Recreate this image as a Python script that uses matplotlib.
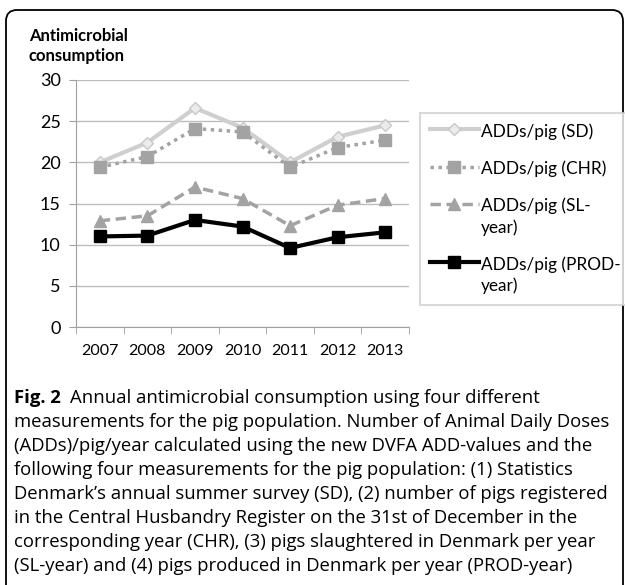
"""Fig. 2 - annual antimicrobial consumption, four pig population measures."""

import matplotlib
matplotlib.use("Agg")
import matplotlib.pyplot as plt
from matplotlib.patches import FancyBboxPatch

plt.rcParams["font.family"] = ["Lato", "DejaVu Sans"]

# ---- data ----
years = ["2007", "2008", "2009", "2010", "2011", "2012", "2013"]
adds_sd = [20.0, 22.4, 26.6, 24.2, 20.0, 23.1, 24.5]
adds_chr = [19.4, 20.7, 24.1, 23.7, 19.4, 21.8, 22.7]
adds_sl = [12.9, 13.5, 17.0, 15.6, 12.3, 14.8, 15.6]
adds_prod = [11.0, 11.1, 13.0, 12.2, 9.6, 10.9, 11.5]
labels = ["ADDs/pig (SD)", "ADDs/pig (CHR)", "ADDs/pig (SL-\nyear)", "ADDs/pig (PROD-\nyear)"]
yticks = [0, 5, 10, 15, 20, 25, 30]

caption_lines = [
    "Annual antimicrobial consumption using four different",
    "measurements for the pig population. Number of Animal Daily Doses",
    "(ADDs)/pig/year calculated using the new DVFA ADD-values and the",
    "following four measurements for the pig population: (1) Statistics",
    "Denmark\u2019s annual summer survey (SD), (2) number of pigs registered",
    "in the Central Husbandry Register on the 31st of December in the",
    "corresponding year (CHR), (3) pigs slaughtered in Denmark per year",
    "(SL-year) and (4) pigs produced in Denmark per year (PROD-year)",
]

W, H = 625, 585
fig = plt.figure(figsize=(W / 100, H / 100), dpi=100)
fig.patch.set_facecolor("white")

# rounded frame round the whole figure (pixel coordinates)
frame = fig.add_axes([0, 0, 1, 1])
frame.set_xlim(0, W)
frame.set_ylim(H, 0)
frame.axis("off")
frame.add_patch(FancyBboxPatch((6, 10), 617, 700, boxstyle="round,pad=0,rounding_size=11",
                               fill=False, lw=1.3, ec="black"))

ax = fig.add_axes([76 / W, 1 - 327 / H, 333 / W, 247 / H])
x = range(len(years))

ax.plot(x, adds_sd, color="#CFCFCF", lw=3, marker="D", ms=6,
        mfc="#EBEBEB", mec="#C8C8C8", label=labels[0], zorder=3)
ax.plot(x, adds_chr, color="#A3A3A3", lw=2.5, ls=(0, (1, 1.3)), marker="s", ms=8,
        mfc="#A3A3A3", mec="#A3A3A3", label=labels[1], zorder=4)
ax.plot(x, adds_sl, color="#A3A3A3", lw=2.5, ls=(0, (3, 1.6)), marker="^", ms=8,
        mfc="#A3A3A3", mec="#A3A3A3", label=labels[2], zorder=4)
ax.plot(x, adds_prod, color="black", lw=3, marker="s", ms=9,
        mfc="black", mec="black", label=labels[3], zorder=5)

ax.set_xlim(-0.5, len(years) - 0.5)
ax.set_ylim(0, 30)
ax.set_yticks(yticks)
ax.set_xticks(list(x))
ax.set_xticklabels(years)
ax.set_xticks([i - 0.5 for i in range(len(years) + 1)], minor=True)
ax.tick_params(axis="x", which="major", length=0, pad=12, labelsize=11.5)
ax.tick_params(axis="x", which="minor", length=5, color="#A0A0A0", direction="out")
ax.tick_params(axis="y", length=5, color="#A0A0A0", pad=6, labelsize=13)
ax.grid(axis="y", color="#BDBDBD", lw=1)
ax.set_axisbelow(True)
for side in ["top", "right"]:
    ax.spines[side].set_visible(False)
for side in ["left", "bottom"]:
    ax.spines[side].set_color("#A0A0A0")

fig.text(29 / W, 1 - 46 / H, "Antimicrobial\nconsumption", fontsize=12, fontweight="bold",
         ha="left", va="center", linespacing=1.3)

leg = ax.legend(loc="upper left", bbox_to_anchor=(420 / W, 1 - 113 / H),
                bbox_transform=fig.transFigure, frameon=True, fancybox=False,
                edgecolor="#D0D0D0", fontsize=12.4, handlelength=2.8, handletextpad=0.15,
                labelspacing=1.2, borderpad=0.6, borderaxespad=0)
leg.get_frame().set_linewidth(1.5)
for t in leg.get_texts():
    t.set_linespacing(1.35)
# handle sits next to the first line of a wrapped label, as in the original
for col in leg._legend_handle_box.get_children():
    for row in col.get_children():
        row.align = "top"

# caption: bold "Fig. 2" then the rest, one line at a time
cap_font = ["Open Sans", "DejaVu Sans"]
cap_size = 13.3
y0, dy = 398, 24
fig_lbl = fig.text(14 / W, 1 - y0 / H, "Fig. 2", fontsize=cap_size, fontweight="bold",
                   family=cap_font, ha="left", va="center")
fig.canvas.draw()
bb = fig_lbl.get_window_extent()
fig.text((bb.x1 + 9) / W, 1 - y0 / H, caption_lines[0], fontsize=cap_size, family=cap_font,
         ha="left", va="center")
for i, line in enumerate(caption_lines[1:], start=1):
    fig.text(14 / W, 1 - (y0 + i * dy) / H, line, fontsize=cap_size, family=cap_font,
             ha="left", va="center")

plt.savefig("out.png", dpi=100)
